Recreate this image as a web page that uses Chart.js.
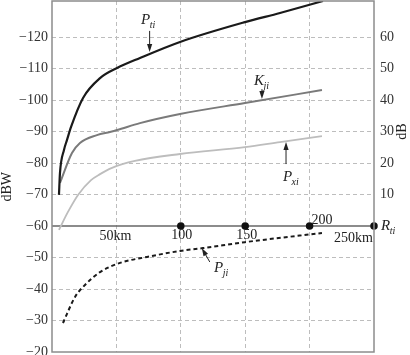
<!DOCTYPE html>
<html><head><meta charset="utf-8">
<script src="https://cdn.jsdelivr.net/npm/chart.js@4.4.0/dist/chart.umd.min.js"></script>
<style>html,body{margin:0;padding:0;background:#fff}#wrap{width:410px;height:355px;position:relative}</style>
</head><body><div id="wrap"><canvas id="c"></canvas></div>
<script>
// ---- data (km, dBW) ----
const ptiKm  = [5.4, 6.2, 9.3, 11.6, 14.8, 24.1, 37.3, 50.5, 68.3, 99.4, 149.8, 177, 210.4];
const ptiDbw = [-69.9, -76.9, -84.2, -87.3, -91.5, -100.7, -107.0, -110.2, -113.4, -118.5, -124.8, -127.7, -131.5];
const kjiKm  = [6.2, 15.5, 21.7, 34.9, 45, 50.5, 68.3, 99.4, 149.8, 209.6];
const kjiDbw = [-73.7, -83.2, -86.4, -88.9, -89.9, -90.5, -92.7, -95.6, -99.1, -103.2];
const pxiKm  = [5.4, 12.4, 20.2, 30.3, 37.3, 46.6, 64.4, 99.4, 149.8, 177, 209.6];
const pxiDbw = [-58.8, -64.5, -69.9, -74.6, -76.5, -78.5, -80.7, -82.9, -85.1, -86.7, -88.6];
const pjiKm  = [8.5, 17.9, 25.6, 37.3, 52.8, 73.8, 99.4, 117.2, 149.8, 209.6];
const pjiDbw = [-29.2, -37.5, -41.3, -45.4, -48.3, -50.2, -52.1, -53.0, -54.9, -57.8];

const yTicks = [-120, -110, -100, -90, -80, -70, -60, -50, -40, -30, -20];
const dbTicks = [10, 20, 30, 40, 50, 60];
const xGrid = [0, 50, 100, 150, 200, 250];
const axisLineKm = [0, 100, 150, 200, 250];
const axisLevel = -60;
const xTickLabels = ['50km', '100', '150', '200', '250km'];
const xTickValues = [50, 100, 150, 200, 250];
const seriesNames = [['P','ti'], ['K','ji'], ['P','xi'], ['P','ji']];

// ---- presentation ----
const serif = '"Liberation Serif","Times New Roman",serif';
const pts = (xs, ys) => xs.map((x, i) => ({x, y: ys[i]}));
const transparent = 'rgba(0,0,0,0)';

// label anchors (data units) and arrows: [labelKm, labelDbw, tailKm, tailDbw, tipKm, tipDbw]
const annot = [
  [69.1, -125.5, 75.8, -122.0, 75.8, -115.3],
  [156.8, -106.1, 163.0, -103.5, 163.0, -100.4],
  [179.3, -75.6, 181.7, -79.7, 181.7, -86.7],
  [125.8, -46.7, 122.5, -48.6, 116.3, -53.0]
];
// tick label placement: [dx, dy, align]
const xLabelPlace = [[-1, 10, 'center'], [1, 9, 'center'], [1.5, 9, 'center'], [2, -6, 'left'], [-1, 12, 'right']];

function subText(ctx, x, y, main, sub) {
  ctx.textBaseline = 'middle';
  ctx.textAlign = 'left';
  ctx.font = 'italic 15px ' + serif;
  ctx.fillText(main, x, y);
  const w = ctx.measureText(main).width;
  ctx.font = 'italic 10px ' + serif;
  ctx.fillText(sub, x + w - 0.5, y + 5);
}
function arrow(ctx, x1, y1, x2, y2) {
  const a = Math.atan2(y2 - y1, x2 - x1);
  const L = 8, W = 2.6;
  ctx.beginPath();
  ctx.moveTo(x1, y1);
  ctx.lineTo(x2 - Math.cos(a) * L * 0.8, y2 - Math.sin(a) * L * 0.8);
  ctx.stroke();
  ctx.beginPath();
  ctx.moveTo(x2, y2);
  ctx.lineTo(x2 - Math.cos(a) * L - Math.sin(a) * W, y2 - Math.sin(a) * L + Math.cos(a) * W);
  ctx.lineTo(x2 - Math.cos(a) * L + Math.sin(a) * W, y2 - Math.sin(a) * L - Math.cos(a) * W);
  ctx.closePath();
  ctx.fill();
}

const decor = {
  id: 'decor',
  afterDraw(chart) {
    const ctx = chart.ctx, a = chart.chartArea;
    const X = chart.scales.x, Y = chart.scales.y;
    ctx.save();
    // frame
    ctx.strokeStyle = '#8c8c8c';
    ctx.lineWidth = 1.5;
    ctx.strokeRect(a.left, a.top, a.right - a.left, a.bottom - a.top);
    // x tick labels on the horizontal axis
    ctx.fillStyle = '#222';
    ctx.font = '14px ' + serif;
    ctx.textBaseline = 'middle';
    const ay = Y.getPixelForValue(axisLevel);
    xTickValues.forEach((v, i) => {
      const p = xLabelPlace[i];
      ctx.textAlign = p[2];
      ctx.fillText(xTickLabels[i], X.getPixelForValue(v) + p[0], ay + p[1]);
    });
    // R_ti
    subText(ctx, X.getPixelForValue(250) + 7, ay, 'R', 'ti');
    // axis titles
    ctx.font = '14px ' + serif;
    ctx.textAlign = 'center';
    ctx.textBaseline = 'middle';
    ctx.save();
    ctx.translate(7, Y.getPixelForValue(-72.5));
    ctx.rotate(-Math.PI / 2);
    ctx.fillText('dBW', 0, 0);
    ctx.restore();
    ctx.save();
    ctx.translate(402, Y.getPixelForValue(-90));
    ctx.rotate(-Math.PI / 2);
    ctx.fillText('dB', 0, 0);
    ctx.restore();
    // series labels and arrows
    ctx.strokeStyle = '#222';
    ctx.fillStyle = '#222';
    ctx.lineWidth = 1;
    annot.forEach((n, i) => {
      subText(ctx, X.getPixelForValue(n[0]), Y.getPixelForValue(n[1]), seriesNames[i][0], seriesNames[i][1]);
      arrow(ctx, X.getPixelForValue(n[2]), Y.getPixelForValue(n[3]), X.getPixelForValue(n[4]), Y.getPixelForValue(n[5]));
    });
    ctx.restore();
  }
};

const smooth = {cubicInterpolationMode: 'monotone', pointRadius: 0};

new Chart(document.getElementById('c'), {
  type: 'line',
  data: {
    datasets: [
      Object.assign({data: pts(ptiKm, ptiDbw), borderColor: '#1a1a1a', borderWidth: 2.2}, smooth),
      Object.assign({data: pts(kjiKm, kjiDbw), borderColor: '#7a7a7a', borderWidth: 2}, smooth),
      Object.assign({data: pts(pxiKm, pxiDbw), borderColor: '#bdbdbd', borderWidth: 1.8}, smooth),
      Object.assign({data: pts(pjiKm, pjiDbw), borderColor: '#1a1a1a', borderWidth: 2, borderDash: [4, 3]}, smooth),
      {data: axisLineKm.map(k => ({x: k, y: axisLevel})), borderColor: '#666', borderWidth: 1.5, tension: 0,
       pointRadius: axisLineKm.map(k => k === 0 ? 0 : 3), pointBackgroundColor: '#111', pointBorderColor: '#111', clip: 6}
    ]
  },
  options: {
    responsive: true, maintainAspectRatio: false, animation: false,
    layout: {autoPadding: false, padding: {top: 1, bottom: 3, left: 0, right: 0}},
    plugins: {legend: {display: false}, tooltip: {enabled: false}},
    scales: {
      x: {
        type: 'linear', min: 0, max: 250,
        afterBuildTicks: s => { s.ticks = xGrid.map(v => ({value: v})); },
        ticks: {display: false},
        grid: {color: c => (c.tick && (c.tick.value === 0 || c.tick.value === 250)) ? transparent : '#bdbdbd', lineWidth: 1, drawTicks: false, tickLength: 0},
        border: {display: false, dash: [4, 3]},
        afterFit: s => { s.height = 0; s.paddingLeft = 0; s.paddingRight = 0; }
      },
      y: {
        type: 'linear', position: 'left', reverse: true, min: -131.5, max: -20,
        afterBuildTicks: s => { s.ticks = yTicks.map(v => ({value: v})); },
        ticks: {font: {family: serif, size: 14}, color: '#333', padding: 4, callback: v => '\u2212' + Math.abs(v)},
        grid: {color: c => (c.tick && (c.tick.value === -60 || c.tick.value === -20)) ? transparent : '#bdbdbd', lineWidth: 1, drawTicks: false, tickLength: 0},
        border: {display: false, dash: [4, 3]},
        afterFit: s => { s.width = 52; s.paddingTop = 0; s.paddingBottom = 0; }
      },
      y2: {
        type: 'linear', position: 'right', min: -40, max: 71.5,
        afterBuildTicks: s => { s.ticks = dbTicks.map(v => ({value: v})); },
        ticks: {font: {family: serif, size: 14}, color: '#333', padding: 6},
        grid: {display: false, drawTicks: false, tickLength: 0},
        border: {display: false},
        afterFit: s => { s.width = 36; s.paddingTop = 0; s.paddingBottom = 0; }
      }
    }
  },
  plugins: [decor]
});
</script>
</body></html>
